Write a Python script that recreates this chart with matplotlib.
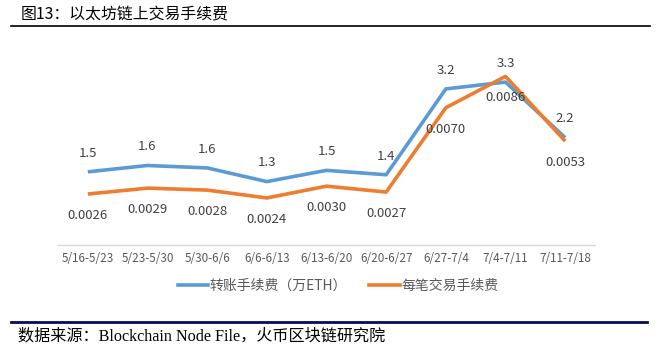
import matplotlib
matplotlib.use("Agg")
import matplotlib.pyplot as plt
from matplotlib.lines import Line2D

plt.rcParams['font.family'] = ['Noto Sans CJK SC', 'DejaVu Sans']

# 数据
weeks = ["5/16-5/23", "5/23-5/30", "5/30-6/6", "6/6-6/13", "6/13-6/20",
         "6/20-6/27", "6/27-7/4", "7/4-7/11", "7/11-7/18"]
transfer_fee = [1.5, 1.63, 1.58, 1.3, 1.53, 1.44, 3.2, 3.34, 2.2]
tx_fee = [0.0026, 0.0029, 0.0028, 0.0024, 0.0030, 0.0027, 0.0070, 0.0086, 0.0053]
transfer_labels = ["1.5", "1.6", "1.6", "1.3", "1.5", "1.4", "3.2", "3.3", "2.2"]
tx_labels = ["0.0026", "0.0029", "0.0028", "0.0024", "0.0030", "0.0027", "0.0070", "0.0086", "0.0053"]

BLUE = "#5B9BD5"
ORANGE = "#ED7D31"
W, H = 659, 347

fig = plt.figure(figsize=(W / 100, H / 100), dpi=100)
ax = fig.add_axes([58 / W, (H - 245) / H, 537 / W, 200 / H])
ax2 = ax.twinx()

x = list(range(len(weeks)))
ax.plot(x, transfer_fee, color=BLUE, lw=2.6, solid_capstyle='butt', zorder=3)
ax2.plot(x, tx_fee, color=ORANGE, lw=2.6, solid_capstyle='butt', zorder=3)

ax.set_xlim(-0.5, len(weeks) - 0.5)
ax.set_ylim(0, 4.1)
ax2.set_ylim(0, 0.0102)

for i, v in enumerate(transfer_fee):
    ax.annotate(transfer_labels[i], (i, v), xytext=(0, 13.5), textcoords='offset points',
                ha='center', va='center', fontsize=9.5, color='#404040')
for i, v in enumerate(tx_fee):
    ax2.annotate(tx_labels[i], (i, v), xytext=(0, -15.5), textcoords='offset points',
                 ha='center', va='center', fontsize=9.5, color='#404040')

for a in (ax, ax2):
    for s in ['top', 'left', 'right']:
        a.spines[s].set_visible(False)
    a.set_yticks([])
ax2.spines['bottom'].set_visible(False)
ax.spines['bottom'].set_color('#d9d9d9')
ax.spines['bottom'].set_linewidth(1)
ax.set_xticks(x)
ax.set_xticklabels(weeks, fontsize=8.4, color='#595959')
ax.tick_params(axis='x', length=0, pad=5)

handles = [Line2D([], [], color=BLUE, lw=2.6), Line2D([], [], color=ORANGE, lw=2.6)]
leg = fig.legend(handles, ["转账手续费（万ETH）", "每笔交易手续费"], loc='center',
                 bbox_to_anchor=(338 / W, (H - 286) / H), ncol=2, frameon=False,
                 fontsize=10, handlelength=2.2, handletextpad=0.1, columnspacing=1.6)
for t in leg.get_texts():
    t.set_color('#595959')

# 标题和来源
fig.text(21 / W, (H - 15) / H, "图13：以太坊链上交易手续费", fontsize=11.4, color='black',
         ha='left', va='center')
fig.add_artist(Line2D([11 / W, 650 / W], [(H - 25.5) / H] * 2, color='black', lw=1.2))
fig.add_artist(Line2D([11 / W, 647 / W], [(H - 321.5) / H] * 2, color='#0a0a5a', lw=2))
fig.text(18 / W, (H - 336) / H, "数据来源：Blockchain Node File，火币区块链研究院", fontsize=11.6,
         family=['Liberation Serif', 'Noto Sans CJK SC'], color='black', ha='left', va='center')

fig.savefig("out.png", dpi=100)
